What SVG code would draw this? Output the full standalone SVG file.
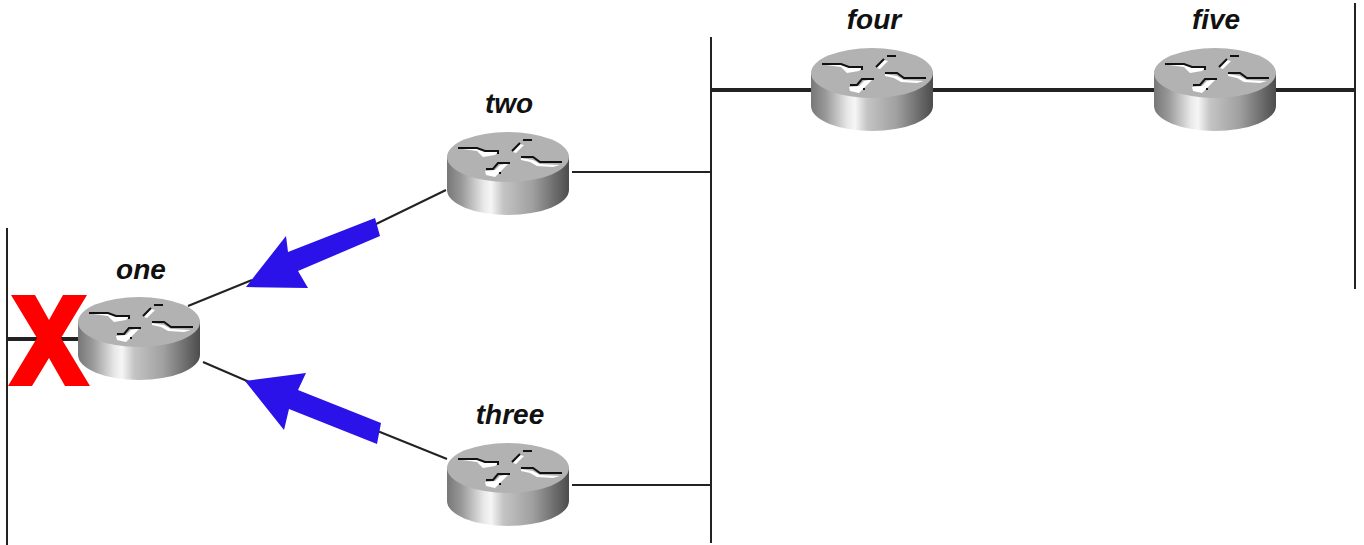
<svg xmlns="http://www.w3.org/2000/svg" width="1364" height="545" viewBox="0 0 1364 545">
<style>
.l{stroke:#222;fill:none;stroke-width:2}
.t{stroke:#222;fill:none;stroke-width:4}
.lb{font-family:"Liberation Sans",Arial,sans-serif;font-size:28px;font-style:italic;font-weight:bold;text-anchor:middle;fill:#111}
.a{fill:#2a12e8}
.w{fill:#fff;stroke:none}
.k{fill:none;stroke:#111;stroke-width:2}
</style>
<defs>
<linearGradient id="g" x1="0" x2="1" y1="0" y2="0">
<stop offset="0" stop-color="#777"/><stop offset=".12" stop-color="#999"/><stop offset=".3" stop-color="#e8e8e8"/><stop offset=".36" stop-color="#f6f6f6"/><stop offset=".46" stop-color="#c4c4c4"/><stop offset=".7" stop-color="#a0a0a0"/><stop offset="1" stop-color="#4c4c4c"/>
</linearGradient>
<g id="r">
<path d="M-61 25V58A61 25 0 0 0 61 58V25Z" fill="url(#g)"/>
<ellipse cx="0" cy="25" rx="61" ry="25" fill="#b2b2b2"/>
<path class="w" d="M-46 17L-31 19L-25 25L-13 23L-10 20L-23 20L-31 16L-46 16ZM13 26L25 28L32 32L52 33L45 35L29 34L22 30L13 28ZM-23 39L-13 38L-8 33L1 31L-6 38L-13 45L-22 43ZM5 20L12 12L16 13L8 21Z"/>
<path class="k" d="M-50 16H-31L-23 19H-10V22M13 25H25L32 30H54M-22 37H-15L-10 31H2M4 19L12 11M15 8H24M-9 41H-7"/>
</g>
</defs>
<g id="connectors">
<path class="l" d="M7 228V545M711 37V543M1355 3V289M572 172H711M572 485H711M372 226L446 190M188 306L252 280M203 362L254 384M375 430L447 459"/>
<path class="t" d="M7 339H80M711 90H812M932 90H1157M1276 90H1355"/>
</g>
<g id="one"><use href="#r" x="139" y="297"/><text class="lb" x="141" y="279">one</text></g>
<g id="two"><use href="#r" x="508" y="132"/><text class="lb" x="509" y="113">two</text></g>
<g id="three"><use href="#r" x="508" y="443"/><text class="lb" x="510" y="424">three</text></g>
<g id="four"><use href="#r" x="872" y="48"/><text class="lb" x="874" y="29">four</text></g>
<g id="five"><use href="#r" x="1215" y="48"/><text class="lb" x="1216" y="29">five</text></g>
<g id="arrows">
<path class="a" d="M246 287L286 236L288 252L375 218L380 236L298 271L308 288Z"/>
<path class="a" d="M245 381L306 373L298 390L381 423L377 444L289 409L284 430Z"/>
</g>
<path id="x" fill="#f00" d="M11 295H35L49 320L63 295H87L61 338L90 386H65L49 358L32 386H8L37 338Z"/>
</svg>
